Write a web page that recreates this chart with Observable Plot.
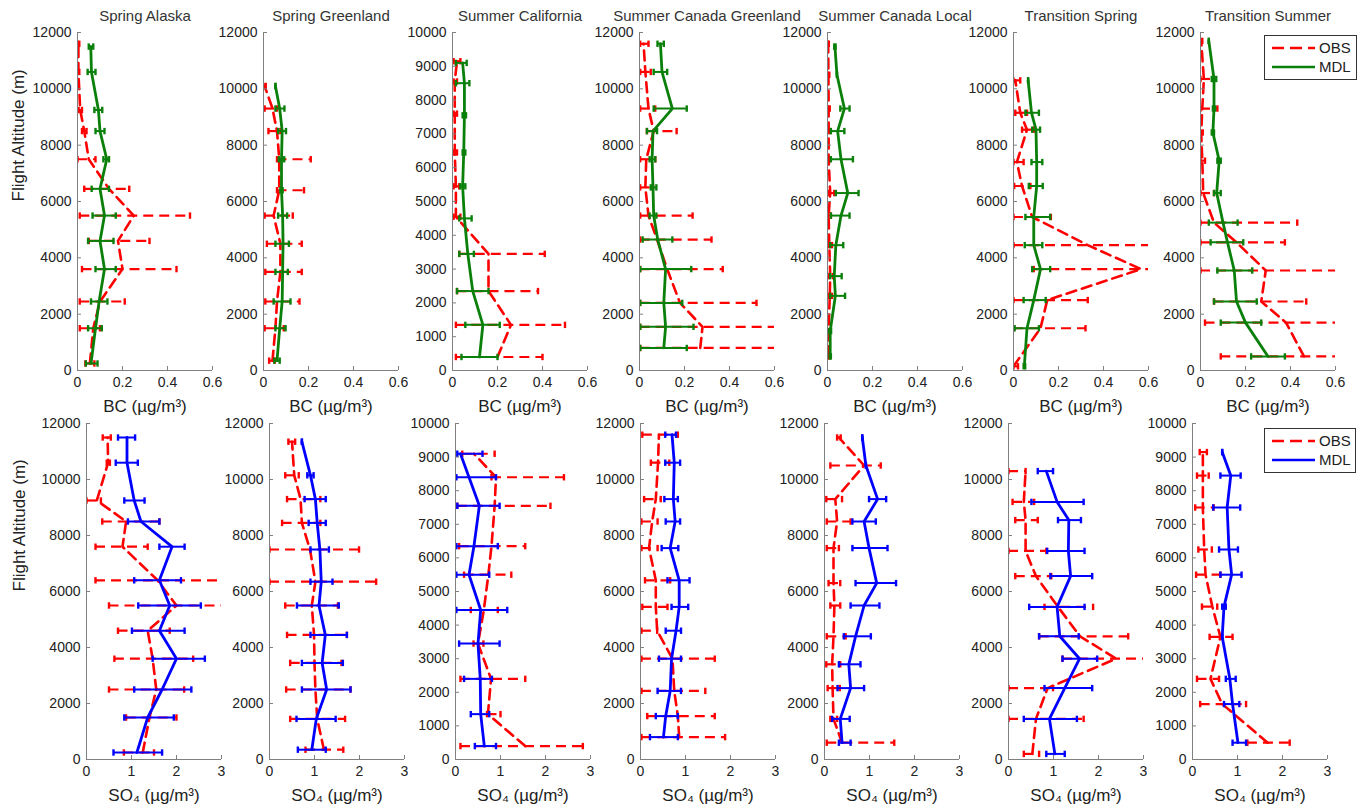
<!DOCTYPE html>
<html><head><meta charset="utf-8">
<script src="https://cdn.jsdelivr.net/npm/d3@7"></script>
<script src="https://cdn.jsdelivr.net/npm/@observablehq/plot@0.6"></script>
<style>
body{margin:0;background:#fff;font-family:"Liberation Sans",Arial,sans-serif;}
#fig{position:relative;width:1367px;height:810px;overflow:hidden;background:#fff;}
</style></head><body><div id="fig"></div><script>
// ---------- DATA: [altitude (m), mean, low end of bar, high end of bar] ----------
const titles = ["Spring Alaska","Spring Greenland","Summer California","Summer Canada Greenland","Summer Canada Local","Transition Spring","Transition Summer"];
const topYMax = [12000,12000,10000,12000,12000,12000,12000];
const botYMax = [12000,12000,10000,12000,12000,12000,10000];
const bcTicks = [0,0.2,0.4,0.6];
const so4Ticks = [0,1,2,3];

// BC (top row)
const bcObs1 = [[250,0.055,0.035,0.075],[1500,0.07,0.01,0.10],[2450,0.10,0.01,0.21],[3600,0.20,0.02,0.44],[4600,0.18,0.05,0.32],[5500,0.25,0.01,0.50],[6450,0.14,0.03,0.23],[7500,0.05,0.0,0.08],[8500,0.03,0.02,0.04],[9250,0.012,0.005,0.02],[10600,0.004,0,0.008],[11600,0.004,0,0.008]];
const bcMdl1 = [[250,0.06,0.037,0.089],[1500,0.08,0.047,0.108],[2450,0.096,0.06,0.133],[3600,0.12,0.08,0.17],[4600,0.10,0.047,0.16],[5500,0.12,0.067,0.17],[6450,0.10,0.063,0.14],[7500,0.13,0.115,0.14],[8500,0.10,0.08,0.12],[9250,0.093,0.075,0.11],[10600,0.062,0.045,0.08],[11500,0.059,0.05,0.07]];
const bcObs2 = [[350,0.04,0.025,0.05],[1500,0.053,0.005,0.09],[2450,0.06,0.008,0.16],[3500,0.075,0.008,0.17],[4500,0.075,0.015,0.17],[5500,0.045,0.005,0.13],[6400,0.07,0.06,0.18],[7500,0.07,0.06,0.21],[8500,0.06,0.022,0.075],[9300,0.04,0.005,0.06],[10100,0.005,0.0,0.01]];
const bcMdl2 = [[350,0.06,0.048,0.072],[1500,0.072,0.053,0.098],[2450,0.083,0.045,0.12],[3500,0.085,0.053,0.108],[4500,0.087,0.053,0.113],[5500,0.085,0.065,0.105],[6400,0.08,0.075,0.085],[7500,0.08,0.068,0.092],[8500,0.083,0.065,0.10],[9300,0.072,0.053,0.093],[10100,0.053,0.053,0.053]];
const bcObs3 = [[400,0.20,0.015,0.40],[1350,0.26,0.015,0.50],[2350,0.16,0.02,0.38],[3450,0.16,0.03,0.41],[4550,0.015,0.005,0.035],[5450,0.015,0.005,0.03],[6450,0.01,0.005,0.02],[7600,0.01,0.005,0.02],[8550,0.01,0.005,0.02],[9150,0.02,0.005,0.035]];
const bcMdl3 = [[400,0.12,0.04,0.20],[1350,0.135,0.057,0.21],[2350,0.09,0.02,0.16],[3450,0.068,0.03,0.095],[4500,0.053,0.03,0.085],[5450,0.045,0.035,0.057],[6450,0.05,0.045,0.057],[7550,0.053,0.045,0.06],[8500,0.053,0.015,0.075],[9100,0.045,0.015,0.063]];
const bcObs4 = [[800,0.27,0.003,0.65],[1550,0.28,0.003,0.65],[2400,0.18,0.003,0.52],[3600,0.123,0.003,0.37],[4650,0.078,0.003,0.32],[5500,0.04,0.003,0.236],[6500,0.026,0.003,0.06],[7500,0.03,0.003,0.07],[8500,0.063,0.033,0.165],[9300,0.04,0.003,0.07],[10600,0.026,0.003,0.05],[11600,0.018,0.003,0.04]];
const bcMdl4 = [[800,0.108,0.003,0.21],[1550,0.116,0.003,0.24],[2400,0.108,0.003,0.19],[3600,0.116,0.003,0.23],[4650,0.081,0.014,0.146],[5500,0.063,0.045,0.075],[6500,0.06,0.05,0.075],[7500,0.056,0.045,0.07],[8500,0.06,0.033,0.078],[9300,0.146,0.063,0.21],[10600,0.10,0.063,0.123],[11600,0.093,0.08,0.108]];
const bcObs5 = [[500,0.005,0.002,0.01],[1400,0.005,0.002,0.01],[2650,0.01,0.004,0.02],[3350,0.012,0.004,0.025],[4450,0.008,0.003,0.02],[5500,0.005,0.002,0.015],[6300,0.012,0.004,0.03],[7500,0.005,0.002,0.01],[8500,0.005,0.002,0.012],[9300,0.005,0.002,0.01],[10500,0.004,0.001,0.008],[11600,0.003,0.001,0.006]];
const bcMdl5 = [[500,0.012,0.01,0.015],[1400,0.012,0.008,0.016],[2650,0.035,0.012,0.078],[3350,0.03,0.012,0.063],[4450,0.037,0.012,0.07],[5500,0.06,0.015,0.098],[6300,0.09,0.037,0.138],[7500,0.06,0.015,0.113],[8500,0.045,0.015,0.075],[9300,0.075,0.057,0.098],[10500,0.042,0.042,0.042],[11500,0.033,0.03,0.036]];
const bcObs6 = [[150,0.0,0.0,0.02],[1500,0.12,0.0,0.32],[2500,0.15,0.0,0.33],[3600,0.567,0.09,0.65],[4450,0.33,0.0,0.65],[5450,0.083,0.0,0.166],[6550,0.038,0.003,0.075],[7400,0.015,0.0,0.045],[8550,0.06,0.038,0.09],[9150,0.03,0.008,0.06],[10300,0.008,0.0,0.03]];
const bcMdl6 = [[150,0.048,0.045,0.052],[1500,0.06,0.005,0.113],[2500,0.09,0.045,0.143],[3600,0.12,0.083,0.163],[4450,0.09,0.05,0.128],[5450,0.09,0.053,0.163],[6550,0.103,0.068,0.13],[7400,0.103,0.08,0.128],[8550,0.10,0.083,0.118],[9150,0.08,0.053,0.113],[10300,0.065,0.065,0.065]];
const bcObs7 = [[500,0.46,0.09,0.65],[1700,0.38,0.02,0.65],[2450,0.27,0.06,0.47],[3550,0.29,0.0,0.65],[4550,0.16,0.0,0.375],[5250,0.06,0.0,0.43],[6300,0.012,0.0,0.06],[7450,0.008,0.0,0.02],[8450,0.003,0.0,0.01],[9300,0.008,0.0,0.075],[10350,0.015,0.0,0.06],[11700,0.003,0.0,0.008]];
const bcMdl7 = [[500,0.30,0.225,0.375],[1700,0.20,0.09,0.27],[2450,0.16,0.06,0.25],[3550,0.15,0.075,0.23],[4550,0.12,0.045,0.19],[5250,0.10,0.037,0.165],[6300,0.072,0.06,0.09],[7450,0.083,0.075,0.09],[8450,0.055,0.05,0.06],[9300,0.06,0.055,0.065],[10350,0.06,0.05,0.07],[11700,0.037,0.037,0.037]];

// SO4 (bottom row)
const soObs1 = [[250,1.25,0.83,1.5],[1500,1.40,0.88,2.0],[2500,1.55,0.5,2.17],[3600,1.47,0.62,2.37],[4600,1.36,0.7,1.85],[5500,2.0,0.5,3.2],[6400,1.58,0.2,3.2],[7600,0.8,0.2,1.36],[8500,0.88,0.35,1.62],[9250,0.23,0.0,0.32],[10600,0.48,0.45,0.52],[11500,0.47,0.36,0.54]];
const soMdl1 = [[250,1.12,0.6,1.68],[1500,1.36,0.84,1.94],[2500,1.68,1.06,2.33],[3600,2.0,1.47,2.63],[4600,1.62,1.01,2.18],[5500,1.85,1.15,2.54],[6400,1.62,1.06,2.1],[7600,1.9,1.62,2.18],[8500,1.21,0.92,1.62],[9250,1.06,0.84,1.29],[10600,0.9,0.65,1.14],[11500,0.9,0.7,1.08]];
const soObs2 = [[350,1.21,0.8,1.64],[1450,1.06,0.46,1.68],[2500,1.02,0.37,1.8],[3450,1.0,0.46,1.6],[4450,0.99,0.39,1.72],[5500,0.94,0.35,1.52],[6350,1.02,0.0,2.37],[7500,0.9,0.0,1.99],[8450,0.72,0.28,1.13],[9300,0.69,0.39,1.13],[10150,0.55,0.35,0.65],[11350,0.5,0.42,0.57]];
const soMdl2 = [[350,0.94,0.63,1.25],[1450,1.04,0.6,1.47],[2500,1.27,0.72,1.8],[3450,1.17,0.72,1.63],[4450,1.24,0.91,1.72],[5500,1.1,0.61,1.54],[6350,1.15,0.91,1.4],[7500,1.12,0.91,1.32],[8450,1.06,0.87,1.25],[9300,1.02,0.78,1.25],[10150,0.91,0.84,0.98],[11350,0.72,0.72,0.72]];
const soObs3 = [[400,1.55,0.11,2.83],[1350,0.72,0.7,1.0],[2400,0.79,0.11,1.55],[3450,0.5,0.4,0.62],[4450,0.63,0.34,0.94],[5500,0.73,0.19,1.24],[6350,0.8,0.08,1.55],[7550,0.87,0.04,2.11],[8400,0.9,0.8,2.41],[9100,0.41,0.15,0.87]];
const soMdl3 = [[400,0.64,0.43,0.9],[1350,0.56,0.34,0.75],[2400,0.55,0.19,0.81],[3450,0.5,0.08,0.98],[4450,0.56,0.02,1.15],[5500,0.3,0.02,0.75],[6350,0.41,0.02,0.94],[7550,0.53,0.04,0.98],[8400,0.3,0.02,0.9],[9100,0.11,0.04,0.6]];
const soObs4 = [[800,0.86,0.02,1.88],[1550,0.83,0.15,1.65],[2450,0.75,0.02,1.44],[3600,0.71,0.02,1.65],[4600,0.37,0.02,0.37],[5450,0.34,0.04,0.6],[6400,0.34,0.1,0.66],[7550,0.19,0.02,0.38],[8500,0.26,0.02,0.38],[9300,0.34,0.08,0.45],[10600,0.39,0.23,0.64],[11600,0.41,0.04,0.83]];
const soMdl4 = [[800,0.51,0.21,0.83],[1550,0.56,0.34,0.83],[2450,0.66,0.38,0.9],[3600,0.69,0.41,0.9],[4600,0.79,0.56,0.9],[5450,0.86,0.69,1.06],[6400,0.86,0.6,1.09],[7550,0.66,0.47,0.84],[8500,0.77,0.56,0.88],[9300,0.73,0.53,0.83],[10600,0.75,0.55,0.88],[11600,0.7,0.55,0.79]];
const soObs5 = [[600,0.39,0.05,1.55],[1450,0.2,0.13,0.28],[2550,0.18,0.07,0.34],[3400,0.17,0.04,0.35],[4400,0.2,0.05,0.47],[5500,0.22,0.13,0.35],[6300,0.2,0.09,0.35],[7550,0.2,0.05,0.32],[8500,0.28,0.05,0.58],[9300,0.24,0.04,0.39],[10500,0.88,0.13,1.25],[11500,0.32,0.28,0.36]];
const soMdl5 = [[600,0.39,0.32,0.58],[1450,0.35,0.17,0.56],[2550,0.58,0.29,0.88],[3400,0.54,0.32,0.8],[4400,0.69,0.43,1.03],[5500,0.88,0.58,1.22],[6300,1.16,0.69,1.59],[7550,0.99,0.62,1.4],[8500,0.88,0.62,1.14],[9300,1.18,0.99,1.37],[10500,0.92,0.92,0.92],[11500,0.84,0.84,0.84]];
const soObs6 = [[200,0.53,0.34,0.68],[1450,0.61,0.0,1.67],[2550,0.87,0.0,0.99],[3600,2.39,1.2,3.2],[4400,1.59,0.68,2.66],[5450,1.1,0.8,1.88],[6550,0.61,0.15,0.95],[7450,0.38,0.0,0.84],[8550,0.38,0.15,0.65],[9200,0.34,0.09,0.57],[10300,0.38,0.0,0.38]];
const soMdl6 = [[200,1.03,0.84,1.25],[1450,0.91,0.34,1.52],[2550,1.25,0.8,1.86],[3600,1.58,1.2,1.97],[4400,1.14,0.68,1.56],[5450,1.08,0.46,1.69],[6550,1.38,0.93,1.86],[7450,1.33,0.86,1.69],[8550,1.34,1.1,1.61],[9200,1.08,0.51,1.67],[10300,0.84,0.65,0.99]];
const soObs7 = [[500,1.67,1.22,2.16],[1650,0.66,0.17,1.19],[2400,0.4,0.1,0.59],[3650,0.62,0.38,0.89],[4550,0.44,0.21,0.55],[5500,0.29,0.08,0.62],[6250,0.26,0.13,0.43],[7500,0.23,0.06,0.47],[8450,0.23,0.1,0.36],[9150,0.23,0.16,0.32]];
const soMdl7 = [[500,1.01,0.89,1.19],[1650,0.89,0.7,1.04],[2400,0.83,0.74,0.96],[3650,0.66,0.66,0.66],[4550,0.7,0.66,0.74],[5500,0.87,0.62,1.09],[6250,0.81,0.59,1.01],[7500,0.77,0.46,1.06],[8450,0.85,0.62,1.07],[9150,0.66,0.66,0.66]];

const bcObs = [bcObs1,bcObs2,bcObs3,bcObs4,bcObs5,bcObs6,bcObs7];
const bcMdl = [bcMdl1,bcMdl2,bcMdl3,bcMdl4,bcMdl5,bcMdl6,bcMdl7];
const soObs = [soObs1,soObs2,soObs3,soObs4,soObs5,soObs6,soObs7];
const soMdl = [soMdl1,soMdl2,soMdl3,soMdl4,soMdl5,soMdl6,soMdl7];
const seriesNames = ["OBS","MDL"];

// ---------- LAYOUT ----------
const fig = document.getElementById("fig");
const FONT = "'Liberation Sans', Arial, Helvetica, sans-serif";
const ML = 74, MR = 12, MT = 34, MB = 50, PW = 135;
const topLefts = [77,263,452,639,827,1013,1200];
const botLefts = [86,269,455,640,824,1008,1192];
const RED = "#ff0000", GREEN = "#0a800a", BLUE = "#0000ff";

const capSymbol = {draw(ctx, size){ const r = Math.sqrt(size/Math.PI); ctx.moveTo(0,-r); ctx.lineTo(0,r); }};
const rows = a => a.map(([alt,mean,lo,hi]) => ({alt,mean,lo,hi}));
const caps = a => a.flatMap(d => [{alt:d.alt, x:d.lo},{alt:d.alt, x:d.hi}]);

function panel({obs, mdl, mcolor, xMax, xTicks, yMax, xLabel, yLabel, title, left, plotTop, ph, yLabelDx}) {
  const O = rows(obs), M = rows(mdl);
  const yTicks = d3.range(0, yMax + 1, yMax > 10000 ? 2000 : 1000);
  const dash = "10,6";
  const marks = [
    Plot.ruleY(O, {y:"alt", x1:"lo", x2:"hi", stroke:RED, strokeWidth:2.2, strokeDasharray:dash, clip:true}),
    Plot.dot(caps(O), {x:"x", y:"alt", symbol:capSymbol, r:3.2, fill:"none", stroke:RED, strokeWidth:2.4, clip:true}),
    Plot.line(O, {x:"mean", y:"alt", stroke:RED, strokeWidth:2.6, strokeDasharray:dash, clip:true}),
    Plot.ruleY(M, {y:"alt", x1:"lo", x2:"hi", stroke:mcolor, strokeWidth:2, clip:true}),
    Plot.dot(caps(M), {x:"x", y:"alt", symbol:capSymbol, r:3.2, fill:"none", stroke:mcolor, strokeWidth:2.4, clip:true}),
    Plot.line(M, {x:"mean", y:"alt", stroke:mcolor, strokeWidth:2.8, clip:true}),
    Plot.ruleX([0], {stroke:"#808080", strokeWidth:1}),
    Plot.ruleY([0], {stroke:"#808080", strokeWidth:1}),
    Plot.axisX({ticks:xTicks, tickFormat:d => String(d), tickSize:-4, tickPadding:11, stroke:"#808080", fill:"#222", fontSize:14, label:null}),
    Plot.axisY({ticks:yTicks, tickFormat:d => String(d), tickSize:-4, tickPadding:10, stroke:"#808080", fill:"#222", fontSize:14, label:null}),
    Plot.text([xLabel], {text:d => d, frameAnchor:"bottom", lineAnchor:"middle", dy:36, fontSize:17, fill:"#222"})
  ];
  if (yLabel) marks.push(Plot.text([yLabel], {text:d => d, frameAnchor:"left", lineAnchor:"middle", dx:yLabelDx, rotate:-90, fontSize:17, fill:"#222"}));
  if (title) marks.push(Plot.text([title], {text:d => d, frameAnchor:"top", lineAnchor:"middle", dy:-16, fontSize:15, fill:"#333"}));
  const svg = Plot.plot({
    width: ML + PW + MR, height: MT + ph + MB,
    marginLeft: ML, marginRight: MR, marginTop: MT, marginBottom: MB,
    x: {domain:[0, xMax]},
    y: {domain:[0, yMax]},
    style: {background:"transparent", overflow:"visible", fontFamily:FONT, fontSize:"14px", color:"#222"},
    marks
  });
  svg.style.position = "absolute";
  svg.style.left = (left - ML) + "px";
  svg.style.top = (plotTop - MT) + "px";
  svg.style.maxWidth = "none";
  fig.appendChild(svg);
}

for (let i = 0; i < 7; i++) {
  panel({obs:bcObs[i], mdl:bcMdl[i], mcolor:GREEN, xMax:0.6, xTicks:bcTicks, yMax:topYMax[i],
    xLabel:"BC (µg/m³)", yLabel: i === 0 ? "Flight Altitude (m)" : null, title:titles[i],
    left:topLefts[i], plotTop:32, ph:338, yLabelDx:-59});
  panel({obs:soObs[i], mdl:soMdl[i], mcolor:BLUE, xMax:3, xTicks:so4Ticks, yMax:botYMax[i],
    xLabel:"SO₄ (µg/m³)", yLabel: i === 0 ? "Flight Altitude (m)" : null, title:null,
    left:botLefts[i], plotTop:423, ph:336, yLabelDx:-67});
}

// ---------- LEGENDS ----------
function legend(x, y, w, h, mcolor) {
  const ns = "http://www.w3.org/2000/svg";
  const s = document.createElementNS(ns, "svg");
  s.setAttribute("width", w); s.setAttribute("height", h);
  s.style.position = "absolute"; s.style.left = x + "px"; s.style.top = y + "px";
  s.style.fontFamily = FONT; s.style.fontSize = "15px";
  const add = (tag, attrs, txt) => { const e = document.createElementNS(ns, tag); for (const k in attrs) e.setAttribute(k, attrs[k]); if (txt) e.textContent = txt; s.appendChild(e); };
  add("rect", {x:0.5, y:0.5, width:w-1, height:h-1, fill:"#fff", stroke:"#333", "stroke-width":1});
  const colors = [RED, mcolor];
  seriesNames.forEach((name, k) => {
    const ly = 13 + k * 19;
    add("line", {x1:8, x2:51, y1:ly, y2:ly, stroke:colors[k], "stroke-width":2.6, "stroke-dasharray": k === 0 ? "12,6" : "none"});
    add("text", {x:55, y:ly + 5, fill:"#222"}, name);
  });
  fig.appendChild(s);
}
legend(1264, 35, 93, 45, GREEN);
legend(1264, 428, 92, 45, BLUE);
</script></body></html>
